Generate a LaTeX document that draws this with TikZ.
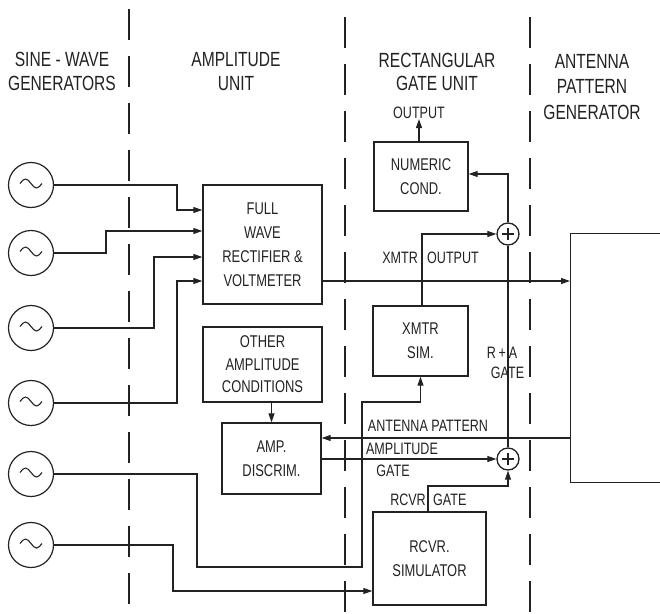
\documentclass[tikz,border=0pt]{standalone}
\usepackage{fontspec}
\setmainfont{Liberation Sans}[FakeStretch=0.76]
\usetikzlibrary{arrows.meta}
\definecolor{ink}{HTML}{222222}
\newcommand\hdrfont{\fontsize{20.5}{23.5}\selectfont}
\newcommand\boxfont{\fontsize{17}{24}\selectfont}
\newcommand\lblfont{\fontsize{16.5}{22}\selectfont}
\begin{document}
\begin{tikzpicture}[x=1pt,y=-1pt,
  ln/.style={line width=1.1pt, draw=ink},
  arr/.style={ln,-{Triangle[length=9pt,width=6pt]}},
  box/.style={draw=ink, line width=1.4pt, rectangle, inner sep=0pt, align=center, font=\boxfont, text=ink},
  gen/.style={draw=ink, line width=1.2pt, circle, minimum size=45pt, inner sep=0pt},
  sum/.style={draw=ink, line width=1.3pt, circle, minimum size=22pt, inner sep=0pt},
  hdr/.style={align=center, inner sep=0pt, font=\hdrfont, text=ink},
  lbl/.style={inner sep=0pt, font=\lblfont, text=ink},
  sep/.style={draw=ink, line width=1.5pt, dash pattern=on 31pt off 16pt}]
\useasboundingbox (0,0) rectangle (660,613);
\clip (0,0) rectangle (660,613);

% column separators
\draw[sep] (129,9) -- (129,613);
\draw[sep] (345,17) -- (345,613);
\draw[sep] (530,17) -- (530,613);

% headers
\node[hdr] (h1) at (62,71.5) {SINE - WAVE\\GENERATORS};
\node[hdr] (h2) at (236,71.5) {AMPLITUDE\\UNIT};
\node[hdr] (h3) at (437,72) {RECTANGULAR\\GATE UNIT};
\node[hdr, font=\fontsize{20.5}{25.5}\selectfont] (h4) at (592,87) {ANTENNA\\PATTERN\\GENERATOR};

% sine-wave generators
\node[gen] (g1) at (31,185) {};
\node[gen] (g2) at (31,253) {};
\node[gen] (g3) at (31,328) {};
\node[gen] (g4) at (31,403) {};
\node[gen] (g5) at (31,474) {};
\node[gen] (g6) at (31,545) {};
\foreach \n in {1,...,6}
  \draw[ink, line width=1.1pt] (g\n.center) ++(-11,-1.5) sin ++(5.5,-4.5) cos ++(5.5,4.5) sin ++(5.5,4.5) cos ++(5.5,-4.5);

% boxes
\node[box, minimum width=119pt, minimum height=119pt] (fw) at (262.5,244.5) {FULL\\WAVE\\RECTIFIER \&\\VOLTMETER};
\node[box, minimum width=119pt, minimum height=75pt, font=\fontsize{17}{22.5}\selectfont] (oth) at (262.5,364.5) {OTHER\\AMPLITUDE\\CONDITIONS};
\node[box, minimum width=99pt, minimum height=71pt] (amp) at (271.5,458.5) {AMP.\\DISCRIM.};
\node[box, minimum width=94pt, minimum height=69pt] (num) at (421,176.5) {NUMERIC\\COND.};
\node[box, minimum width=95pt, minimum height=70pt] (xmtr) at (420.5,341) {XMTR\\SIM.};
\node[box, minimum width=113pt, minimum height=93pt] (rcvr) at (429.5,558.5) {RCVR.\\SIMULATOR};
\node[box, minimum width=130pt, minimum height=249pt, anchor=north west] (ant) at (570,233) {};

% summing junctions
\node[sum] (s1) at (508,234) {};
\node[sum] (s2) at (508,459) {};
\foreach \s in {s1,s2}
  \draw[ink, line width=1.2pt] ([xshift=-6pt]\s.center) -- ([xshift=6pt]\s.center)
                                ([yshift=-6pt]\s.center) -- ([yshift=6pt]\s.center);

% output label
\node[lbl] (out) at (419,113) {OUTPUT};

% generator connections
\draw[arr] (g1.east) -- (177,185) -- (177,210) -- (fw.west |- 0,210);
\draw[arr] (g2.east) -- (106,253) -- (106,231) -- (fw.west |- 0,231);
\draw[arr] (g3.east) -- (154,328) -- (154,257) -- (fw.west |- 0,257);
\draw[arr] (g4.east) -- (177,403) -- (177,281) -- (fw.west |- 0,281);
\draw[arr] (g5.east) -- (197,474) -- (197,567) -- (362,567) -- (362,402) -- (420.5,402) -- (xmtr.south);
\draw[arr] (g6.east) -- (173,545) -- (173,591) -- (rcvr.west |- 0,591);

% main signal paths
\draw[arr] (fw.east |- 0,281) -- (ant.west |- 0,281);
\draw[arr] (oth.south -| amp.north) -- (amp.north);
\draw[arr] (ant.west |- 0,438) -- (amp.east |- 0,438);
\draw[arr] (amp.east |- 0,459) -- (s2.west);
\draw[arr] (rcvr.north -| 428,0) -- (428,486) -- (508,486) -- (s2.south);
\draw[arr] (xmtr.north -| 422,0) -- (422,234) -- (s1.west);
\draw[arr] (s1.north) -- (508,174) -- (num.east |- 0,174);
\draw[ln] (s2.north) -- (s1.south);
\draw[arr] (num.north -| out.south) -- (out.south);

% labels
\node[lbl, anchor=east] (l1) at (418,258) {XMTR};
\node[lbl, anchor=west] (l2) at (427,258) {OUTPUT};
\node[lbl] (l3) at (502,353) {R\,+\,A};
\node[lbl] (l4) at (507.5,373) {GATE};
\node[lbl] (l5) at (428,426) {ANTENNA PATTERN};
\node[lbl] (l6) at (402,449) {AMPLITUDE};
\node[lbl] (l7) at (393,471) {GATE};
\node[lbl, anchor=east] (l8) at (426,500) {RCVR};
\node[lbl, anchor=west] (l9) at (433,500) {GATE};
\end{tikzpicture}
\end{document}
